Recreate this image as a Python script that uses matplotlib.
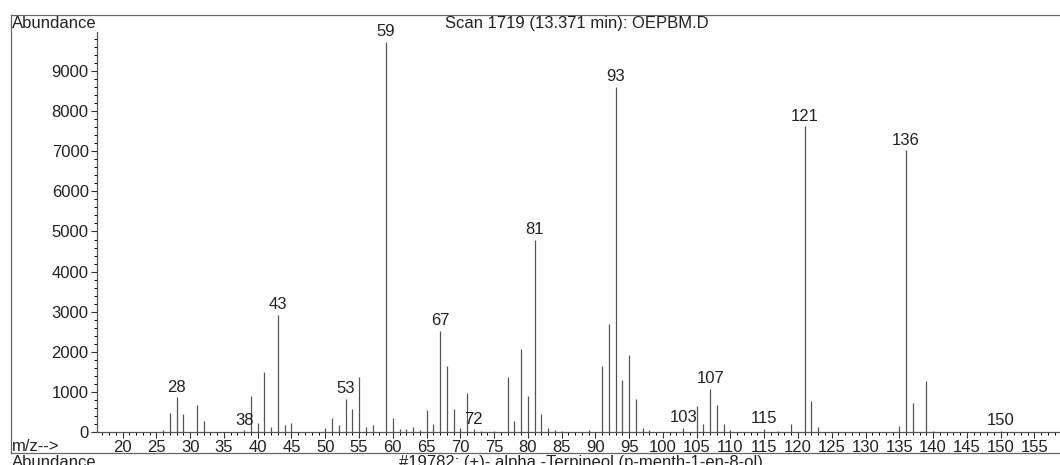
import matplotlib.pyplot as plt
from matplotlib.ticker import MultipleLocator
from matplotlib.lines import Line2D

plt.rcParams["font.family"] = ["Liberation Sans", "DejaVu Sans"]

# m/z values and abundances
mz = [26, 27, 28, 29, 31, 32, 38, 39, 40, 41, 42, 43, 44, 45, 50,
      51, 52, 53, 54, 55, 56, 57, 59, 60, 61, 62, 63, 64, 65, 66,
      67, 68, 69, 70, 71, 72, 73, 75, 77, 78, 79, 80, 81, 82, 83,
      84, 85, 89, 91, 92, 93, 94, 95, 96, 97, 98, 103, 105, 106, 107,
      108, 109, 110, 115, 117, 119, 121, 122, 123, 135, 136, 137, 139, 140, 150]
abundance = [50, 480, 865, 440, 665, 280, 40, 900, 215, 1495, 130, 2930, 175, 232, 100,
             357, 183, 823, 582, 1363, 125, 166, 9720, 357, 83, 75, 116, 50, 549, 200,
             2519, 1646, 574, 91, 973, 66, 30, 30, 1372, 274, 2070, 890, 4790, 440, 90,
             40, 30, 50, 1646, 2693, 8600, 1297, 1912, 823, 100, 40, 108, 648, 200, 1081,
             682, 191, 50, 70, 30, 200, 7620, 780, 133, 158, 7020, 731, 1280, 30, 20]

# peaks that carry a label
labeled = [28, 38, 43, 53, 59, 67, 72, 81, 93, 103, 107, 115, 121, 136, 150]

fig = plt.figure(figsize=(10.6, 4.65), dpi=100)
ax = fig.add_axes([97 / 1060, 1 - 432 / 465, 1 - 97 / 1060, 400 / 465])

ax.vlines(mz, 0, abundance, colors="#555555", linewidth=0.9)
for m, a in zip(mz, abundance):
    if m in labeled:
        ax.annotate(str(m), (m, a), xytext=(0, 2), textcoords="offset points",
                    ha="center", va="bottom", fontsize=12, color="#222222")

ax.set_xlim(16.2, 158.8)
ax.set_ylim(0, 9975)
ax.xaxis.set_minor_locator(MultipleLocator(1))
ax.set_xticks(range(20, 160, 5))
ax.yaxis.set_minor_locator(MultipleLocator(200))
ax.set_yticks(range(0, 10000, 1000))
ax.tick_params(labelsize=12, colors="#333333", labelcolor="#222222", width=0.8)
ax.tick_params(axis="both", which="major", length=4, direction="out", pad=2)
ax.tick_params(axis="both", which="minor", length=2.5, direction="out", width=0.7)
for s in ["top", "right"]:
    ax.spines[s].set_visible(False)
for s in ["left", "bottom"]:
    ax.spines[s].set_color("#555555")
    ax.spines[s].set_linewidth(0.9)

# outer frame of the printout
fx0, fy0, fy1 = 11 / 1060, 1 - 453 / 465, 1 - 15 / 465
frame_kw = dict(color="#666666", linewidth=0.9, transform=fig.transFigure)
fig.add_artist(Line2D([fx0, 1], [fy1, fy1], **frame_kw))
fig.add_artist(Line2D([fx0, fx0], [fy0, fy1], **frame_kw))
fig.add_artist(Line2D([fx0, 1], [fy0, fy0], **frame_kw))

fig.text(12 / 1060, 1 - 16 / 465, "Abundance", va="top", fontsize=12, color="#222222")
fig.text(577 / 1060, 1 - 16 / 465, "Scan 1719 (13.371 min): OEPBM.D",
         ha="center", va="top", fontsize=12, color="#222222")
fig.text(12 / 1060, 1 - 451 / 465, "m/z-->", fontsize=12, color="#222222")
fig.text(12 / 1060, 1 - 455 / 465, "Abundance", va="top", fontsize=12, color="#222222")
fig.text(581 / 1060, 1 - 455 / 465, "#19782: (+)- alpha -Terpineol (p-menth-1-en-8-ol)",
         ha="center", va="top", fontsize=12, color="#222222")

fig.savefig("out.png", dpi=100)
